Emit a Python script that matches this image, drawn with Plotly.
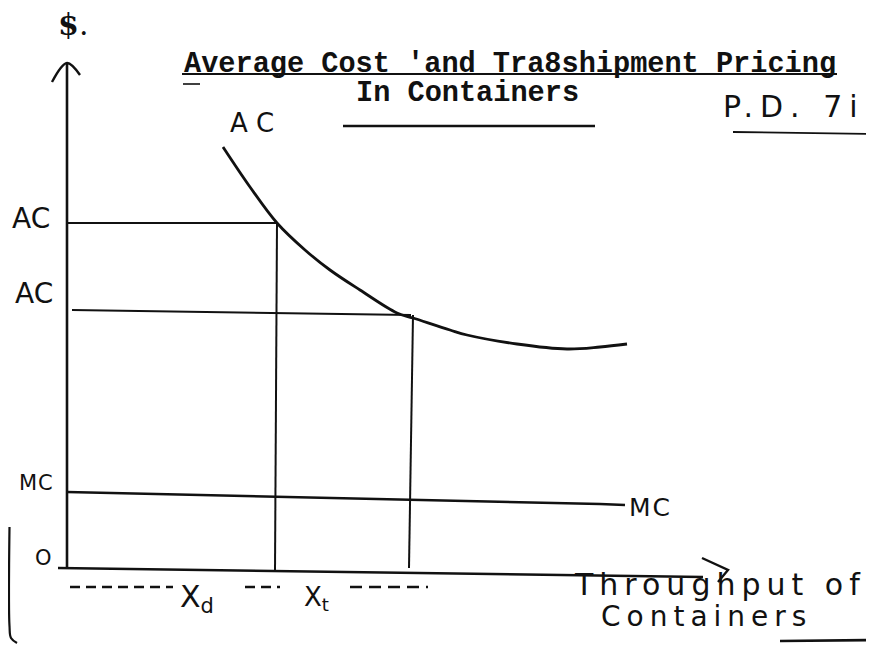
import plotly.graph_objects as go

# ---- data (diagram units: quantity of containers, $ per unit) ----
q_ac = [15.6, 18.3, 21.0, 23.8, 26.3, 29.3, 33.0, 34.6, 38.3, 40.0, 45.0, 50.0, 53.3, 56.0]
ac_curve = [42.1, 38.1, 34.5, 31.8, 29.8, 27.8, 25.5, 25.0, 23.8, 23.3, 22.4, 21.9, 22.1, 22.4]

q_mc = [0.0, 23.3, 53.3, 55.8]
mc_line = [7.6, 7.1, 6.4, 6.3]

x_d = 21.0          # throughput Xd
x_t = 34.4          # throughput Xt
ac_high = 34.5      # AC at Xd
ac_low = [25.8, 25.3]  # AC at Xt (hand-drawn, slightly sloped)

y_axis_top = 50.5
x_axis_end = 63.6
x_axis_y = [0.0, -0.9]

BLACK = "#111111"
fig = go.Figure()

def seg(xs, ys, w=2.2, dash=None, shape="linear"):
    fig.add_trace(go.Scatter(x=xs, y=ys, mode="lines", hoverinfo="skip",
                             line=dict(color=BLACK, width=w, dash=dash, shape=shape),
                             showlegend=False))

# axes
seg([0, 0], [-0.1, y_axis_top], w=2.6)
seg([-1.5, 0, 1.3], [48.6, y_axis_top, 49.3], w=2.4, shape="spline")
seg([-0.9, x_axis_end], x_axis_y, w=2.6)
seg([63.5, 66.1, 65.1], [1.0, -0.2, -1.4], w=2.4)

# AC curve
seg(q_ac, ac_curve, w=2.8, shape="spline")

# AC levels and throughput verticals
seg([0, x_d], [ac_high, ac_high], w=2.0)
seg([0.5, x_t], ac_low, w=2.0)
seg([x_d, x_d - 0.2], [ac_high, -0.2], w=2.0)
seg([x_t + 0.2, x_t - 0.2], [ac_low[1], 0.0], w=2.0)

# MC line
seg(q_mc, mc_line, w=2.6)

# dashes under x axis
seg([0.3, 10.6], [-1.9, -1.9], w=2.4, dash="10px,6px")
seg([17.8, 21.3], [-1.9, -1.9], w=2.4, dash="10px,6px")
seg([28.3, 36.1], [-1.9, -1.9], w=2.4, dash="12px,7px")

# title underlines and page marks
seg([11.5, 77.0], [49.4, 49.4], w=2.0)
seg([11.6, 13.3], [48.4, 48.4], w=1.6)
seg([27.6, 52.8], [44.2, 44.2], w=2.4)
seg([66.6, 80.6], [43.6, 43.4], w=1.8)
seg([-5.75, -5.75, -5.6, -5.0], [4.1, -5.8, -7.0, -7.5], w=2.2, shape="spline")
seg([71.3, 80.7], [-7.3, -7.2], w=2.6)

mono = "Liberation Mono"
hand = "DejaVu Sans"

def label(x, y, text, size=24, font=hand, xanchor="center", yanchor="middle", spacing=None):
    if spacing:
        text = f"<span style='letter-spacing:{spacing}px'>{text}</span>"
    fig.add_annotation(x=x, y=y, text=text, showarrow=False, xanchor=xanchor, yanchor=yanchor,
                       font=dict(family=font, size=size, color=BLACK))

label(11.5, 50.4, "<b>Average Cost 'and Tra8shipment Pricing</b>", size=28.6, font=mono, xanchor="left")
label(28.7, 47.5, "<b>In Containers</b>", size=28.6, font=mono, xanchor="left")
label(72.7, 46.2, "P.D. 7i", size=30, spacing=7)
label(0.6, 54.4, "<b>$</b>.", size=30, font="DejaVu Serif")
label(18.5, 44.5, "A C", size=26)
label(-3.6, 35.0, "AC", size=28)
label(-3.3, 27.5, "AC", size=28)
label(-3.1, 8.5, "MC", size=21, spacing=1)
label(-2.4, 1.0, "O", size=21)
label(56.0, 6.1, "MC", size=25, xanchor="left", spacing=2)
label(13.0, -3.0, "X<sub>d</sub>", size=30)
label(24.9, -3.0, "X<sub>t</sub>", size=26)
label(50.5, -1.6, "Throughput of", size=30, xanchor="left", spacing=6)
label(53.2, -4.8, "Containers", size=28, xanchor="left", spacing=6)

# The page body adds an 8px offset, so the figure is 8px smaller and the
# axis ranges start where the visible page area starts.
fig.update_layout(
    width=866, height=637,
    margin=dict(l=0, r=0, t=0, b=0),
    paper_bgcolor="white", plot_bgcolor="white",
    xaxis=dict(range=[-5.9, 80.7], visible=False, fixedrange=True),
    yaxis=dict(range=[-7.7, 56.0], visible=False, fixedrange=True),
    showlegend=False,
)

fig.write_html("out.html")
